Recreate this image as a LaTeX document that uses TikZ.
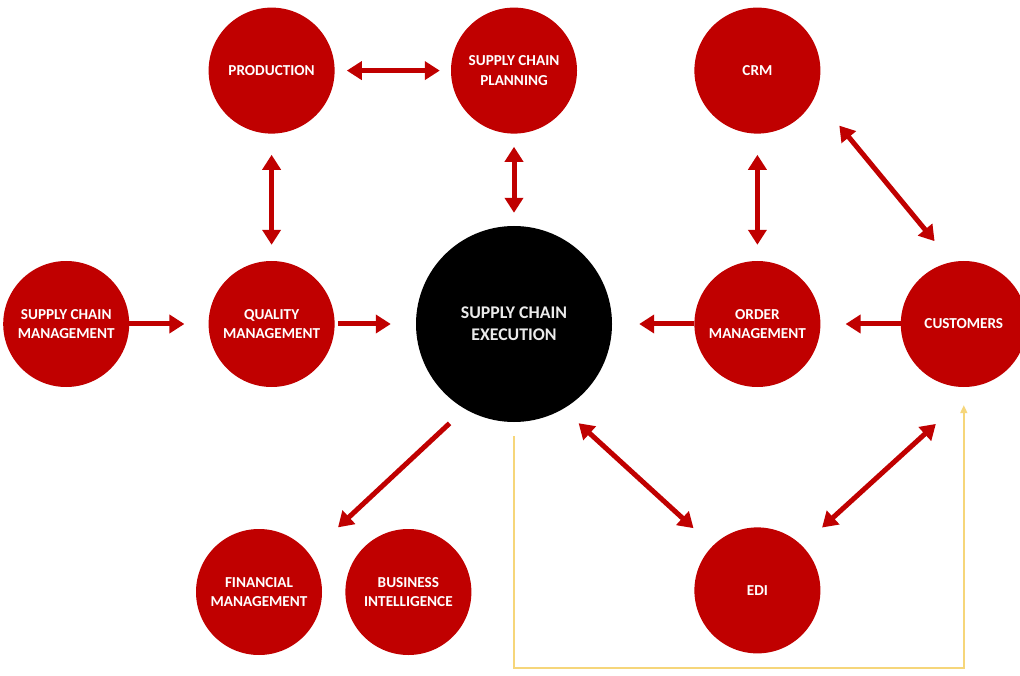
\documentclass[tikz,border=0pt]{standalone}
\usepackage{fontspec}
\setmainfont{Carlito}
\usetikzlibrary{positioning}
\usetikzlibrary{arrows.meta}
\definecolor{scred}{RGB}{192,0,0}
\definecolor{scyellow}{RGB}{246,214,122}

\begin{document}
\begin{tikzpicture}[x=1pt, y=-1pt, >={Triangle[width=18pt,length=15pt]},
  unit/.style={circle, fill=scred, text=white, minimum size=126pt, inner sep=0pt, align=center, font=\bfseries\fontsize{15.2}{19.5}\selectfont},
  hub/.style={circle, fill=black, text=white!92!black, minimum size=196pt, inner sep=0pt, align=center, font=\bfseries\fontsize{17.8}{22}\selectfont},
  link/.style={draw, color=scred, line width=5pt}]

  \useasboundingbox[fill=white] (0,0) rectangle (1020,676);

  \node[hub] (sce) at (514,324) {SUPPLY CHAIN\\EXECUTION};
  \node[unit] (qm) [left = 81pt of sce] {QUALITY\\MANAGEMENT};
  \node[unit] (scm) [left = 79pt of qm] {SUPPLY CHAIN\\MANAGEMENT};
  \node[unit] (om) [right = 82pt of sce] {ORDER\\MANAGEMENT};
  \node[unit] (cust) [right = 80pt of om] {CUSTOMERS};
  \node[unit] (prod) [above = 127pt of qm] {PRODUCTION};
  \node[unit] (scp) [above = 92pt of sce] {SUPPLY CHAIN\\PLANNING};
  \node[unit] (crm) [above = 127pt of om] {CRM};
  \node[unit] (edi) [below = 140pt of om] {EDI};
  \node[unit] (fin) at (259,592) {FINANCIAL\\MANAGEMENT};
  \node[unit] (bi) [right = 23pt of fin] {BUSINESS\\INTELLIGENCE};
  \coordinate (loopbase) at (0,668);

  \path[link]
    (prod) edge[<->, shorten <=12pt, shorten >=11pt] (scp)
    (prod) edge[<->, shorten <=21pt, shorten >=16pt] (qm)
    (scp) edge[<->, shorten <=13pt, shorten >=13pt] (sce)
    (crm) edge[<->, shorten <=21pt, shorten >=16pt] (om)
    (crm.-24) edge[<->, shorten <=38pt, shorten >=27pt] (cust.101)
    (scm) edge[->, shorten >=24pt] (qm)
    (qm) edge[->, shorten <=3pt, shorten >=25pt] (sce)
    (om) edge[->, shorten >=27pt] (sce)
    (cust) edge[->, shorten >=25pt] (om)
    (sce.240) edge[->, shorten <=21pt, shorten >=39pt] (fin.37)
    (sce.-60) edge[<->, shorten <=21pt, shorten >=26pt] (edi.135)
    (cust.-77) edge[<->, shorten <=57pt, shorten >=27pt] (edi.45)
  ;

  % feedback line
  \draw[scyellow, line width=1.6pt, -{Triangle[width=7pt,length=8pt]}, shorten <=14pt, shorten >=18pt]
    (sce.south) -- (sce.south |- loopbase) -- (cust.south |- loopbase) -- (cust.south);
\end{tikzpicture}
\end{document}
